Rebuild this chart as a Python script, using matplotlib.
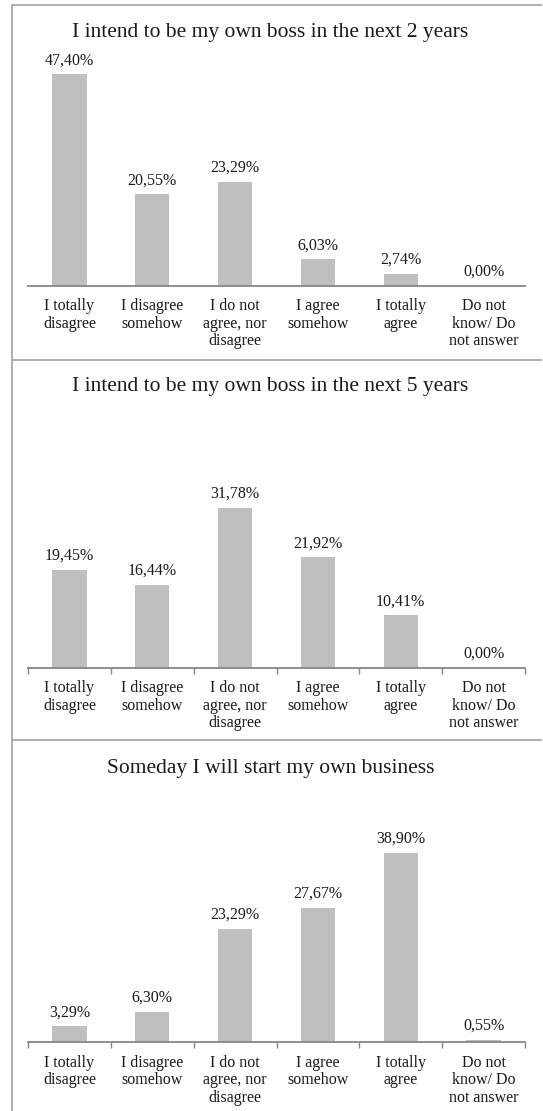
import matplotlib
matplotlib.use("Agg")
import matplotlib.pyplot as plt
from matplotlib.lines import Line2D

plt.rcParams['font.family'] = ['Liberation Serif', 'DejaVu Serif']

categories = ["I totally\ndisagree", "I disagree\nsomehow", "I do not\nagree, nor\ndisagree",
              "I agree\nsomehow", "I totally\nagree", "Do not\nknow/ Do\nnot answer"]
titles = ["I intend to be my own boss in the next 2 years",
          "I intend to be my own boss in the next 5 years",
          "Someday I will start my own business"]
values_2y = [47.40, 20.55, 23.29, 6.03, 2.74, 0.00]
values_5y = [19.45, 16.44, 31.78, 21.92, 10.41, 0.00]
values_someday = [3.29, 6.30, 23.29, 27.67, 38.90, 0.55]
series = [values_2y, values_5y, values_someday]

W, H = 543, 1111
fig = plt.figure(figsize=(W / 100, H / 100), dpi=100)

# layout in pixels (from top): axis baseline, ymax, pixel-per-unit scale, title center, ticks
panels = [
    dict(base=286.0, ymax=50, scale=4.47, title_y=32, ticks=False),
    dict(base=667.7, ymax=35, scale=5.03, title_y=387, ticks=True),
    dict(base=1042.3, ymax=45, scale=4.87, title_y=768, ticks=True),
]
ax_left, ax_right = 28, 525

bar_color = "#BFBFBF"
axis_color = "#868686"
border_color = "#A8A8A8"
text_color = "#1a1a1a"

for p, vals, title in zip(panels, series, titles):
    top = p["base"] - p["ymax"] * p["scale"]
    ax = fig.add_axes([ax_left / W, 1 - p["base"] / H, (ax_right - ax_left) / W,
                       (p["base"] - top) / H])
    x = list(range(len(categories)))
    ax.bar(x, vals, width=0.415, color=bar_color, edgecolor="none", zorder=2)
    ax.set_xlim(-0.5, len(categories) - 0.5)
    ax.set_ylim(0, p["ymax"])
    for xi, v in zip(x, vals):
        ax.annotate(f"{v:.2f}".replace('.', ',') + "%", (xi, v), xytext=(0, 10),
                    textcoords="offset points", ha="center", va="center",
                    fontsize=11.5, color=text_color)
    for s in ["top", "right", "left"]:
        ax.spines[s].set_visible(False)
    ax.spines["bottom"].set_color(axis_color)
    ax.spines["bottom"].set_linewidth(1.3)
    ax.set_yticks([])
    ax.set_xticks(x)
    ax.set_xticklabels(categories, fontsize=11.5, color=text_color, linespacing=1.12,
                       ma="center")
    ax.tick_params(axis="x", which="major", length=0, pad=9)
    if p["ticks"]:
        ax.set_xticks([i - 0.5 for i in range(len(categories) + 1)], minor=True)
        ax.tick_params(axis="x", which="minor", length=4, width=1, color=axis_color,
                       direction="out")
    ax.patch.set_alpha(0)
    fig.text(270.5 / W, 1 - p["title_y"] / H, title, ha="center", va="center",
             fontsize=15.5, color=text_color)

# panel borders
def hline(y, x0=12, x1=541):
    fig.add_artist(Line2D([x0 / W, x1 / W], [1 - y / H, 1 - y / H], color=border_color,
                          linewidth=1.3, transform=fig.transFigure))

fig.add_artist(Line2D([12 / W, 12 / W], [1 - 5 / H, 0], color=border_color, linewidth=1.3,
                      transform=fig.transFigure))
hline(5)
hline(360)
hline(740)

fig.savefig("out.png", dpi=100)
